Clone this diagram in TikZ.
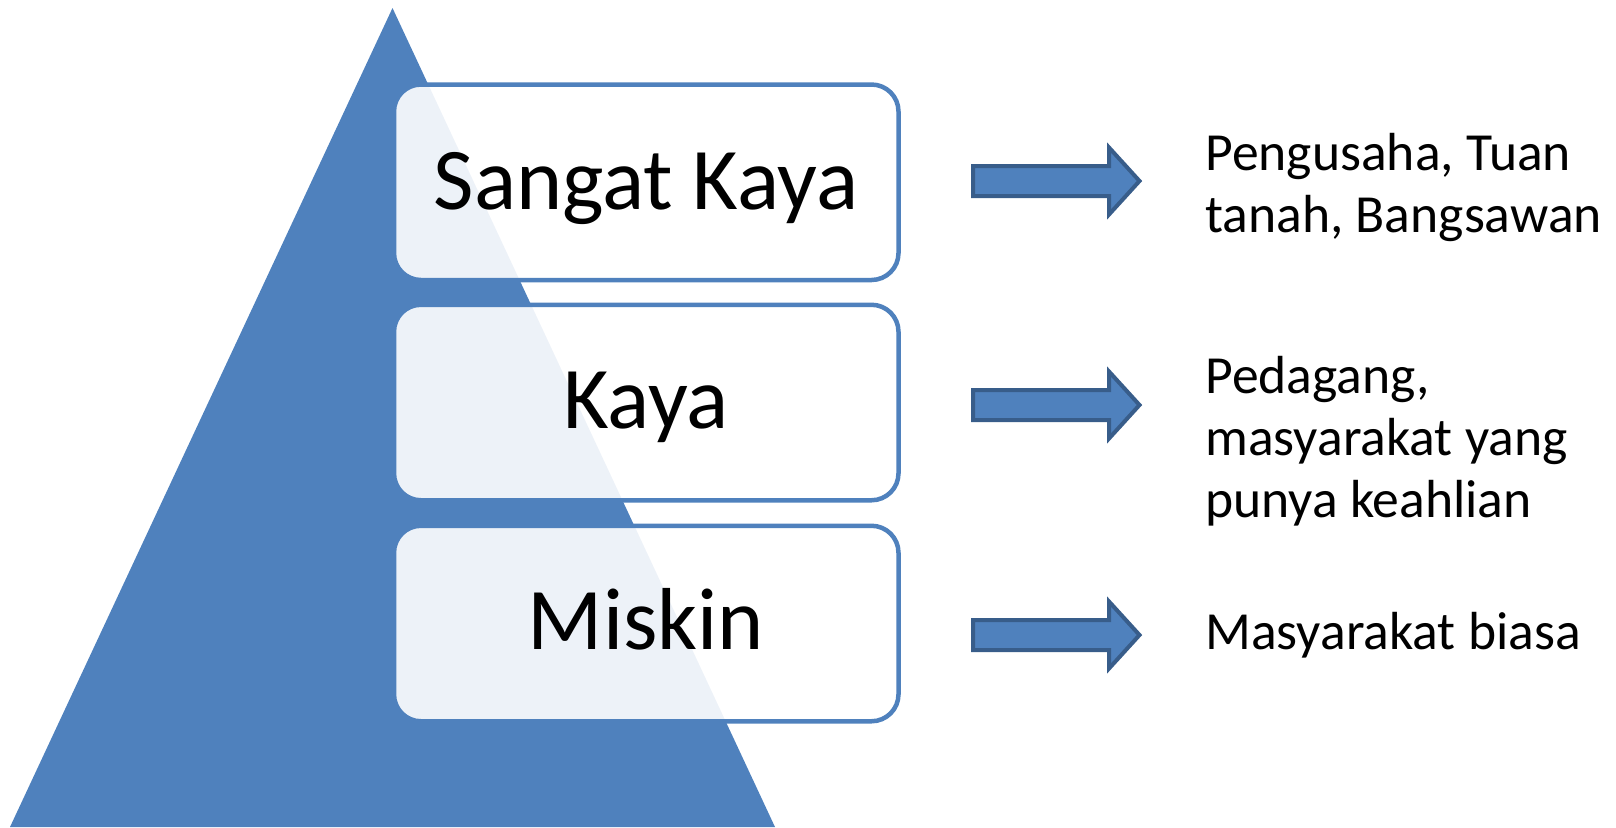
\documentclass[tikz,border=0pt]{standalone}
\usepackage{fontspec}
\setmainfont{Carlito}
\definecolor{pblue}{HTML}{4F81BD}
\definecolor{pdark}{HTML}{385D8A}
\begin{document}
\begin{tikzpicture}[x=0.5pt,y=-0.5pt,
  tier/.style={draw=pblue, line width=2.25pt, fill=white, fill opacity=0.9, draw opacity=1,
    rounded corners=13.5pt, minimum width=252.25pt, minimum height=97.75pt, inner sep=0pt},
  tiertext/.style={anchor=base, inner sep=0pt, font=\fontsize{44}{52}\selectfont},
  desc/.style={anchor=base west, align=left, inner sep=0pt, font=\fontsize{26.8}{31}\selectfont},
  blockarrow/.style={fill=pblue, draw=pdark, line width=2pt, line join=miter}]
\useasboundingbox (0,0) rectangle (1616,827);
% pyramid
\fill[pblue] (10,827) -- (392.5,8) -- (775,827) -- cycle;
% tiers
\node[tier] (b1) at (646.25,182.25) {};
\node[tier] (b2) at (646.25,402.5) {};
\node[tier] (b3) at (646.25,623.5) {};
\node[tiertext] (t1) at (646,209) {Sangat Kaya};
\node[tiertext] (t2) at (646,428) {Kaya};
\node[tiertext] (t3) at (646,649) {Miskin};
% block arrows
\draw[blockarrow, shift={(0,181)}] (973,-15) -- (1109,-15) -- (1109,-33.5) -- (1139.5,0) -- (1109,33.5) -- (1109,15) -- (973,15) -- cycle;
\draw[blockarrow, shift={(0,405)}] (973,-15) -- (1109,-15) -- (1109,-33.5) -- (1139.5,0) -- (1109,33.5) -- (1109,15) -- (973,15) -- cycle;
\draw[blockarrow, shift={(0,635)}] (973,-15) -- (1109,-15) -- (1109,-33.5) -- (1139.5,0) -- (1109,33.5) -- (1109,15) -- (973,15) -- cycle;
% descriptions (anchor = baseline of the last line)
\node[desc] (d1) at (1205,232) {Pengusaha, Tuan\\tanah, Bangsawan};
\node[desc] (d2) at (1205,517) {Pedagang,\\masyarakat yang\\punya keahlian};
\node[desc] (d3) at (1205,649) {Masyarakat biasa};
\end{tikzpicture}
\end{document}
